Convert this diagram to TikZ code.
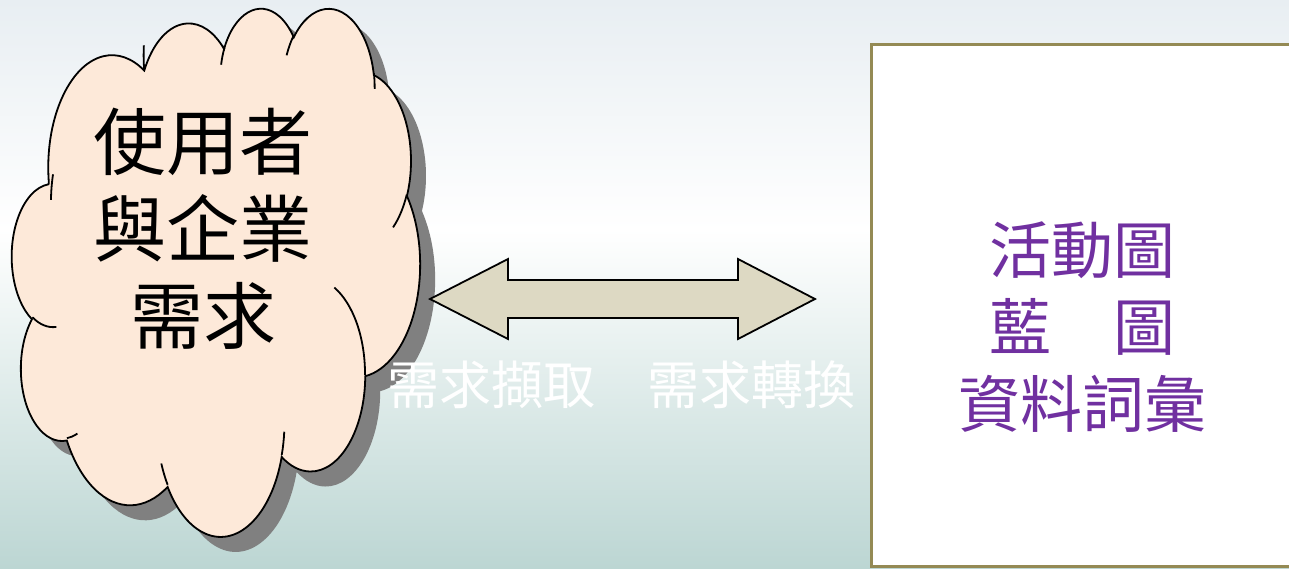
\documentclass[tikz,border=0pt]{standalone}
\usepackage{fontspec}
\newfontfamily\cjk{Noto Sans CJK TC}
\definecolor{bgtop}{HTML}{E8EEF2}
\definecolor{bgbot}{HTML}{BCD6D3}
\definecolor{cloudfill}{HTML}{FDE9D9}
\definecolor{shadowgray}{HTML}{808080}
\definecolor{arrowfill}{HTML}{DDD9C3}
\definecolor{boxborder}{HTML}{948A54}
\definecolor{txtpurple}{HTML}{7030A0}
% OOXML-style arc: name, rx, ry, visual start angle, visual sweep
\newcommand\prepArc[5]{%
  \pgfmathsetmacro\tmpS{atan2(#2*sin(#4),#3*cos(#4))}%
  \pgfmathsetmacro\tmpE{atan2(#2*sin(#4+#5),#3*cos(#4+#5))}%
  \pgfmathsetmacro\tmpD{mod((\tmpE)-(\tmpS)+720,360)}%
  \edef\tmpX{\noexpand\tikzset{#1/.style={start angle=\tmpS,delta angle=\tmpD,x radius=#2,y radius=#3}}}\tmpX}
\prepArc{cA}{6.753}{9.190}{-190.4875}{123.7805}
\prepArc{cB}{5.333}{7.267}{-144.1024}{89.9452}
\prepArc{cC}{4.365}{5.945}{-145.8079}{99.7230}
\prepArc{cD}{4.857}{6.595}{-130.9861}{117.2417}
\prepArc{cE}{5.333}{7.273}{-78.7089}{109.0269}
\prepArc{cF}{6.775}{9.220}{-46.2673}{130.2690}
\prepArc{cG}{5.785}{7.867}{0.6250}{114.0333}
\prepArc{cH}{6.752}{9.215}{22.4516}{115.1726}
\prepArc{cI}{7.720}{10.543}{66.2426}{75.7110}
\prepArc{cJ}{4.360}{5.918}{-274.9421}{146.7356}
\prepArc{cK}{4.345}{5.945}{-246.8285}{152.5189}
\prepArc{iA}{4.345}{5.945}{86.7420}{26.4295}
\prepArc{iB}{4.360}{5.918}{73.6105}{11.4475}
\prepArc{iC}{6.752}{9.215}{137.6242}{14.0811}
\prepArc{iD}{6.752}{9.215}{6.4533}{15.9984}
\prepArc{iE}{5.785}{7.867}{-70.2924}{70.9174}
\prepArc{iF}{5.333}{7.273}{30.3180}{27.7515}
\prepArc{iG}{4.857}{6.595}{-13.7443}{14.8589}
\prepArc{iH}{4.857}{6.595}{-149.1815}{18.1954}
\prepArc{iI}{4.365}{5.945}{-163.4943}{17.6864}
\prepArc{iJ}{6.753}{9.190}{-190.4875}{17.3727}
\prepArc{iK}{6.753}{9.190}{181.9089}{17.6511}
\newcommand\cloudOutline[1]{%
  \path[#1] (3.9,14.37) arc[cA] arc[cB] arc[cC] arc[cD] arc[cE] arc[cF]
    arc[cG] arc[cH] arc[cI] arc[cJ] arc[cK] -- cycle;}
\newcommand\cloudInner[1]{%
  \path[#1] (4.693,26.177) arc[iA] (6.928,34.899) arc[iB]
    (16.478,39.090) arc[iC] (28.827,34.751) arc[iD]
    (34.129,22.954) arc[iE] (41.798,15.354) arc[iF]
    (38.324,5.426) arc[iG] (29.078,3.952) arc[iH]
    (22.141,4.720) arc[iI] (14.000,5.192) arc[iJ]
    (4.127,15.789) arc[iK];}
\tikzset{
  outline/.style={draw=black, line width=1.8},
  needtext/.style={font={\cjk\fontsize{73}{87}\selectfont}, align=center, text=black, inner sep=0},
  outtext/.style={font={\cjk\fontsize{62}{77}\selectfont}, align=center, text=txtpurple, inner sep=0},
  midtext/.style={font={\cjk\fontsize{52}{60}\selectfont}, text=white, inner sep=0},
}
\begin{document}
\begin{tikzpicture}[x=1pt, y=-1pt]
\useasboundingbox (0,0) rectangle (1289,568);
% background
\shade[top color=bgtop, bottom color=white] (0,0) rectangle (1289,230);
\shade[top color=white, bottom color=bgbot] (0,229.5) rectangle (1289,568);
% cloud shadow
\begin{scope}[shift={(27,22)}, x=9.444pt, y=-12.222pt]
  \cloudOutline{fill=shadowgray}
\end{scope}
% cloud
\begin{scope}[shift={(12,7)}, x=9.444pt, y=-12.222pt]
  \cloudOutline{fill=cloudfill, outline}
  \cloudInner{outline}
\end{scope}
\node[needtext] (need) at (203,229) {使用者\\與企業\\需求};
% double arrow
\coordinate (tipL) at (430,299);
\coordinate (tipR) at (815,299);
\draw[fill=arrowfill, outline, line join=miter]
  (tipL) -- (508,259) -- (508,280) -- (738,280) -- (738,259) -- (tipR)
  -- (738,339) -- (738,318) -- (508,318) -- (508,339) -- cycle;
\node[midtext] (mid) at (621,385) {需求擷取　需求轉換};
% right box
\draw[fill=white, draw=boxborder, line width=3] (871,44) rectangle (1300,566.5);
\node[outtext] (out) at (1082,327) {活動圖\\藍　圖\\資料詞彙};
\end{tikzpicture}
\end{document}
